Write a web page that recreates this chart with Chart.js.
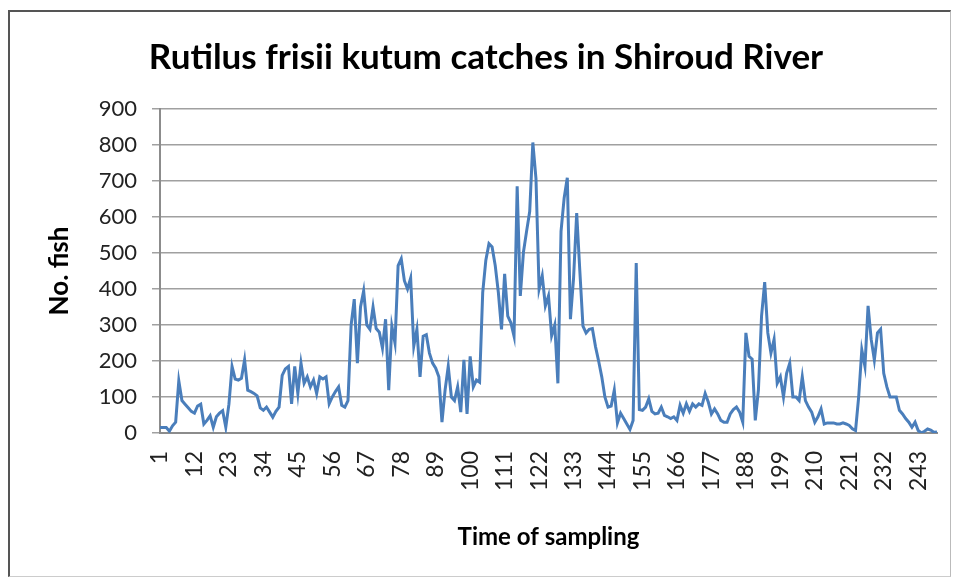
<!DOCTYPE html>
<html>
<head>
<meta charset="utf-8">
<script src="https://cdn.jsdelivr.net/npm/chart.js@4.4.1/dist/chart.umd.min.js"></script>
<style>
  body { margin: 0; background: #fff; }
  #wrap { position: relative; width: 954px; height: 580px; }
  #frame {
    position: absolute; left: 8px; top: 10px; width: 940px; height: 564px;
    border-left: 2px solid #555; border-top: 2px solid #555;
    border-right: 1px solid #bbb; border-bottom: 1px solid #ccc;
  }
  canvas { position: absolute; left: 0; top: 0; }
</style>
</head>
<body>
<div id="wrap">
  <div id="frame"></div>
  <canvas id="chart" width="954" height="580"></canvas>
</div>
<script>
const chartTitle = "Rutilus frisii kutum catches in Shiroud River";
const xTitle = "Time of sampling";
const yTitle = "No. fish";

// catches per sampling
const catches = [
  15, 15, 15, 5, 20, 30, 145, 90, 80, 70,
  60, 55, 75, 80, 25, 35, 48, 16, 45, 55,
  62, 16, 80, 185, 150, 147, 152, 203, 119, 115,
  110, 103, 70, 63, 72, 58, 44, 60, 72, 160,
  178, 185, 81, 185, 110, 194, 138, 156, 128, 147,
  110, 156, 150, 156, 81, 100, 115, 128, 77, 72,
  90, 300, 372, 194, 350, 395, 300, 288, 350, 290,
  280, 236, 316, 119, 297, 250, 465, 484, 423, 400,
  430, 241, 288, 156, 269, 273, 222, 194, 180, 156,
  30, 120, 185, 100, 90, 128, 58, 203, 53, 213,
  128, 147, 141, 390, 480, 526, 517, 465, 390, 288,
  442, 325, 306, 269, 685, 381, 502, 560, 615, 807,
  707, 400, 437, 353, 381, 270, 300, 138, 560, 653,
  709, 316, 430, 611, 450, 297, 278, 288, 290, 240,
  200, 156, 100, 72, 75, 119, 28, 55, 40, 25,
  10, 35, 472, 65, 63, 72, 95, 60, 53, 55,
  72, 49, 45, 40, 45, 35, 77, 55, 81, 60,
  81, 72, 81, 77, 110, 86, 53, 67, 53, 35,
  30, 30, 53, 65, 72, 58, 30, 278, 213, 205,
  35, 120, 325, 419, 278, 222, 260, 138, 156, 100,
  166, 194, 100, 100, 90, 156, 90, 72, 58, 30,
  45, 67, 25, 28, 28, 28, 25, 25, 28, 25,
  21, 12, 7, 100, 231, 185, 353, 260, 203, 278,
  288, 166, 128, 100, 100, 100, 63, 53, 40, 30,
  16, 30, 7, 0, 5, 11, 8, 2, 3
];

// sampling numbers 1..n, only every 11th is labelled
const samples = catches.map((v, i) => String(i + 1));
const shownTicks = ["1", "12", "23", "34", "45", "56", "67", "78", "89", "100", "111", "122",
  "133", "144", "155", "166", "177", "188", "199", "210", "221", "232", "243"];

const yMin = 0, yMax = 900, yStep = 100;

const font = "Lato, 'Open Sans', sans-serif";

new Chart(document.getElementById("chart"), {
  type: "line",
  data: {
    labels: samples,
    datasets: [{
      data: catches,
      borderColor: "#4a7ebb",
      borderWidth: 3,
      pointRadius: 0,
      tension: 0,
      fill: false
    }]
  },
  options: {
    responsive: false,
    animation: false,
    layout: { padding: { left: 35, right: 17, top: 0, bottom: 0 } },
    plugins: {
      legend: { display: false },
      tooltip: { enabled: false },
      title: {
        display: true,
        text: chartTitle,
        color: "#000",
        font: { family: font, size: 35, weight: "bold" },
        padding: { top: 37, bottom: 30 }
      }
    },
    scales: {
      x: {
        offset: false,
        grid: { display: false, drawTicks: false },
        border: { display: true, color: "#8c8c8c", width: 2 },
        ticks: {
          autoSkip: false,
          minRotation: 90,
          maxRotation: 90,
          padding: 18,
          color: "#222",
          font: { family: font, size: 23 },
          callback: function (val) {
            const s = this.getLabelForValue(val);
            return shownTicks.includes(s) ? s : "";
          }
        },
        title: {
          display: true,
          text: xTitle,
          color: "#000",
          font: { family: font, size: 24, weight: "bold" },
          padding: { top: 0, bottom: 28 }
        },
        afterFit: (scale) => {
          scale.height = 147;
          scale.paddingLeft = 0;
          scale.paddingRight = 0;
        }
      },
      y: {
        min: yMin,
        max: yMax,
        ticks: {
          stepSize: yStep,
          padding: 15,
          color: "#222",
          font: { family: font, size: 22 }
        },
        grid: { color: "#a0a0a0", lineWidth: 1.5, tickLength: 8 },
        border: { display: true, color: "#8c8c8c", width: 2 },
        title: {
          display: true,
          text: yTitle,
          color: "#000",
          font: { family: font, size: 26, weight: "bold" },
          padding: { top: 9, bottom: 0 }
        },
        afterFit: (scale) => { scale.width = 125; }
      }
    }
  }
});
</script>
</body>
</html>
